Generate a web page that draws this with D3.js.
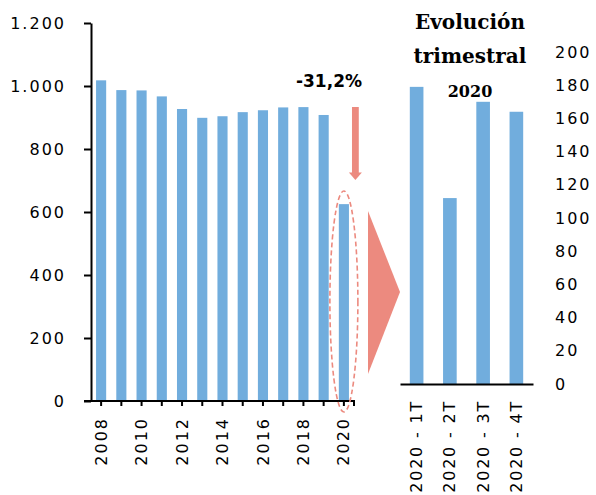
<!DOCTYPE html>
<html><head><meta charset="utf-8">
<script src="https://cdn.jsdelivr.net/npm/d3@7"></script>
<style>
body{margin:0;background:#fff}
svg text{font-family:"DejaVu Sans"}
</style></head>
<body><svg id="c" width="596" height="495"></svg>
<script>
const years = ["2008","2009","2010","2011","2012","2013","2014","2015","2016","2017","2018","2019","2020"];
const yearLabels = ["2008","","2010","","2012","","2014","","2016","","2018","","2020"];
const annualValues = [1018,987,986,967,927,899,904,917,923,932,933,908,625];
const quarters = ["2020 - 1T","2020 - 2T","2020 - 3T","2020 - 4T"];
const quarterValues = [179,112,170,164];
const leftTicks = [0,200,400,600,800,1000,1200];
const rightTicks = [0,20,40,60,80,100,120,140,160,180,200];
const changeLabel = "-31,2%";
const titleLines = ["Evolución","trimestral","2020"];

const BLUE = "#71ADDD", SALMON = "#EC8A7F";
const locale = d3.formatLocale({decimal:",",thousands:".",grouping:[3],currency:["","€"]});
const fmt = locale.format(",");
const svg = d3.select("#c");
const FS = 16, LS = "2px";

// ---- Left chart ----
const x = d3.scaleBand().domain(years).range([91,354]).paddingInner(0.5).paddingOuter(0.25);
const y = d3.scaleLinear().domain([0,1200]).range([401,23]);

svg.append("g").selectAll("rect").data(annualValues).join("rect")
  .attr("x",(d,i)=>x(years[i])).attr("width",x.bandwidth())
  .attr("y",d=>y(d)).attr("height",d=>y(0)-y(d)).attr("fill",BLUE);

const yAx = svg.append("g").attr("transform","translate(91,0)")
  .call(d3.axisLeft(y).tickValues(leftTicks).tickSize(7).tickSizeOuter(0).tickPadding(18).tickFormat(fmt));
yAx.selectAll("path,line").attr("stroke","#000").attr("stroke-width",2);
yAx.selectAll("text").attr("font-size",FS).attr("letter-spacing",LS).attr("fill","#000");

const xAx = svg.append("g").attr("transform",`translate(0,${y(0)})`)
  .call(d3.axisBottom(x).tickSize(5).tickSizeOuter(5).tickFormat((d,i)=>yearLabels[i]));
xAx.selectAll("path,line").attr("stroke","#000").attr("stroke-width",2);
xAx.selectAll("text").attr("font-size",FS).attr("letter-spacing",LS).attr("fill","#000")
  .attr("transform","rotate(-90)").attr("x",-16).attr("y",0).attr("dy","0.35em").style("text-anchor","end");
xAx.select(".domain").attr("d",`M84,0H354V5`);

// annotation
const cx2020 = x("2020")+x.bandwidth()/2;
const arrowX = cx2020 + 11.5;
svg.append("rect").attr("x",arrowX-3.4).attr("y",107).attr("width",6.8).attr("height",66).attr("fill",SALMON);
svg.append("path").attr("d",`M${arrowX-6.5},172.5L${arrowX+6.5},172.5L${arrowX},180Z`).attr("fill",SALMON);
svg.append("ellipse").attr("cx",cx2020).attr("cy",301.5).attr("rx",14).attr("ry",110.5)
  .attr("fill","none").attr("stroke",SALMON).attr("stroke-width",1.6).attr("stroke-dasharray","5,3");
svg.append("text").attr("x",329).attr("y",87).attr("text-anchor","middle")
  .attr("font-size",17).attr("font-weight","bold").text(changeLabel);
svg.append("path").attr("d","M368,211L400,292L368,374Z").attr("fill",SALMON);

// ---- Right chart ----
const xr = d3.scaleBand().domain(quarters).range([400,533]).paddingInner(0.59).paddingOuter(0.295);
const yr = d3.scaleLinear().domain([0,200]).range([384,52]);

svg.append("g").selectAll("rect").data(quarterValues).join("rect")
  .attr("x",(d,i)=>xr(quarters[i])).attr("width",xr.bandwidth())
  .attr("y",d=>yr(d)).attr("height",d=>yr(0)-yr(d)).attr("fill",BLUE);

const xrAx = svg.append("g").attr("transform",`translate(0,${yr(0)})`)
  .call(d3.axisBottom(xr).tickSize(0).tickSizeOuter(0));
xrAx.select(".domain").attr("stroke","#000").attr("stroke-width",2);
xrAx.selectAll("text").attr("font-size",FS).attr("letter-spacing","1.8px").attr("fill","#000")
  .attr("transform","rotate(-90)").attr("x",-16).attr("y",0).attr("dy","0.35em").style("text-anchor","end");

const yrAx = svg.append("g").attr("transform","translate(555,0)")
  .call(d3.axisRight(yr).tickValues(rightTicks).tickSize(0).tickPadding(0));
yrAx.select(".domain").remove();
yrAx.selectAll("text").attr("font-size",FS).attr("letter-spacing",LS).attr("fill","#000");

// title
svg.append("g").selectAll("text").data(titleLines).join("text")
  .attr("x",470).attr("y",(d,i)=>29+i*34).attr("text-anchor","middle")
  .style("font-family","'DejaVu Serif'").attr("font-weight","bold").attr("font-size",(d,i)=>i==2?16:20).text(d=>d);
</script></body></html>
